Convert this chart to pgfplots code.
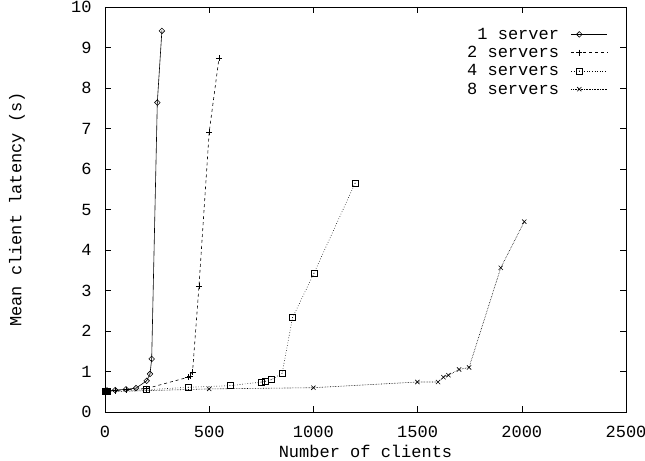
\documentclass[border=0pt]{standalone}
\usepackage{fontspec}
\setmainfont{Liberation Mono}
\usepackage{pgfplots}
\pgfplotsset{compat=1.18}
\pgfdeclareplotmark{dodiamond}{%
  \pgfpathmoveto{\pgfqpoint{0pt}{\pgfplotmarksize}}%
  \pgfpathlineto{\pgfqpoint{\pgfplotmarksize}{0pt}}%
  \pgfpathlineto{\pgfqpoint{0pt}{-\pgfplotmarksize}}%
  \pgfpathlineto{\pgfqpoint{-\pgfplotmarksize}{0pt}}%
  \pgfpathclose\pgfusepathqstroke
  \pgfpathcircle{\pgfpointorigin}{0.45pt}\pgfusepathqfill}
\pgfdeclareplotmark{dosquare}{%
  \pgfpathrectangle{\pgfqpoint{-\pgfplotmarksize}{-\pgfplotmarksize}}{\pgfqpoint{2\pgfplotmarksize}{2\pgfplotmarksize}}%
  \pgfusepathqstroke
  \pgfpathcircle{\pgfpointorigin}{0.45pt}\pgfusepathqfill}
\begin{document}
\begin{tikzpicture}
\begin{axis}[
  scale only axis,
  width=521bp, height=405bp,
  xmin=0, xmax=2500, ymin=0, ymax=10,
  xtick={0,500,...,2500}, ytick={0,1,...,10},
  minor tick num=0,
  tick align=inside,
  major tick length=6bp,
  axis line style={line width=0.7bp},
  every tick/.style={black,line width=0.6bp},
  /pgf/number format/assume math mode=true,
  /pgf/number format/1000 sep={},
  tick label style={font=\fontsize{17bp}{20bp}\selectfont},
  xticklabel style={yshift=-11bp},
  yticklabel style={xshift=-10bp},
  label style={font=\fontsize{17bp}{20bp}\selectfont},
  xlabel={Number of clients},
  ylabel={Mean client latency (s)},
  xlabel style={at={(axis description cs:0.5,-0.0963)},anchor=center},
  ylabel style={at={(axis description cs:-0.169,0.5)},anchor=center},
  legend style={at={(axis description cs:0.967,0.956)},anchor=north east,
    draw=none,fill=none,font=\fontsize{17bp}{20bp}\selectfont,
    row sep=1.5bp, column sep=10bp, inner sep=1bp},
  legend cell align=right,
  legend plot pos=right,
  legend image code/.code={
    \draw[#1,mark=none] (0bp,0bp) -- (36bp,0bp);
    \draw[#1,only marks] plot coordinates {(8bp,0bp)};
  },
  every axis plot/.append style={black,line width=0.6bp,mark options={solid,line width=0.6bp}},
]
\addplot[mark=dodiamond,mark size=2.8bp,solid] coordinates {
 (1,0.52) (2,0.52) (5,0.53) (10,0.53) (49,0.54) (101,0.56) (149,0.59)
 (200,0.77) (216,0.94) (224,1.31) (251,7.64) (273,9.41)};
\addlegendentry{1 server}
\addplot[mark=+,mark size=3bp,dashed] coordinates {
 (1,0.51) (2,0.51) (5,0.52) (10,0.52) (50,0.53) (100,0.55) (200,0.58)
 (400,0.86) (410,0.89) (420,0.98) (451,3.11) (500,6.91) (547,8.74)};
\addlegendentry{2 servers}
\addplot[mark=dosquare,mark size=3bp,dotted] coordinates {
 (1,0.5) (2,0.5) (5,0.51) (10,0.51) (200,0.55) (400,0.61) (600,0.65)
 (750,0.74) (770,0.76) (800,0.80) (850,0.96) (900,2.33) (1002,3.42) (1200,5.65)};
\addlegendentry{4 servers}
\addplot[mark=x,mark size=3bp,densely dotted] coordinates {
 (1,0.5) (2,0.5) (5,0.5) (10,0.5) (500,0.57) (1000,0.60) (1499,0.74)
 (1598,0.74) (1624,0.86) (1648,0.91) (1699,1.05) (1747,1.10) (1899,3.56) (2012,4.70)};
\addlegendentry{8 servers}
\end{axis}
\pgfresetboundingbox
\path (current axis.south west) ++(-105bp,-49bp) coordinate (bbA);
\path (current axis.north east) ++(19bp,7bp) coordinate (bbB);
\path[use as bounding box] (bbA) rectangle (bbB);
\end{tikzpicture}
\end{document}
